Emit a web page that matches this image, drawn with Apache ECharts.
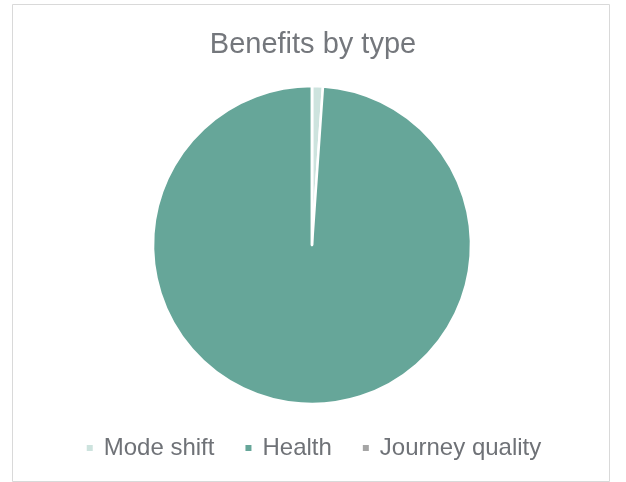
<!DOCTYPE html>
<html><head><meta charset="utf-8">
<script src="https://cdn.jsdelivr.net/npm/echarts@6/dist/echarts.min.js"></script>
<style>html,body{margin:0;padding:0;background:#fff}#c{width:626px;height:482px}</style>
</head><body><div id="c"></div>
<script>
const categories = ["Mode shift", "Health", "Journey quality"];
const values = [1.1, 98.9, 0];
const colors = ["#cde3de", "#66a699", "#a5a5a5"];

const chart = echarts.init(document.getElementById('c'));
chart.setOption({
  animation: false,
  graphic: [{type:'rect', shape:{x:12.5,y:4.5,width:597,height:477}, style:{fill:'none', stroke:'#d9d9d9', lineWidth:1}}],
  title: {text: 'Benefits by type', left: 'center', top: 25,
    textStyle: {fontFamily: 'Liberation Sans', fontSize: 29, fontWeight: 'normal', color: '#74777c'}},
  legend: {bottom: 17, left: 'center', itemWidth: 8, itemHeight: 8, itemGap: 29, icon: 'rect',
    textStyle: {fontFamily: 'Liberation Sans', fontSize: 24, color: '#6f7277', padding:[0,0,0,5]},
    data: categories},
  series: [{type: 'pie', radius: 159, center: [312, 245], startAngle: 90, clockwise: true,
    label: {show: false}, labelLine: {show: false},
    itemStyle: {borderColor: '#fff', borderWidth: 2.5},
    data: categories.map((c,i)=>({name:c, value:values[i], itemStyle:{color:colors[i]}}))}]
});
</script></body></html>
